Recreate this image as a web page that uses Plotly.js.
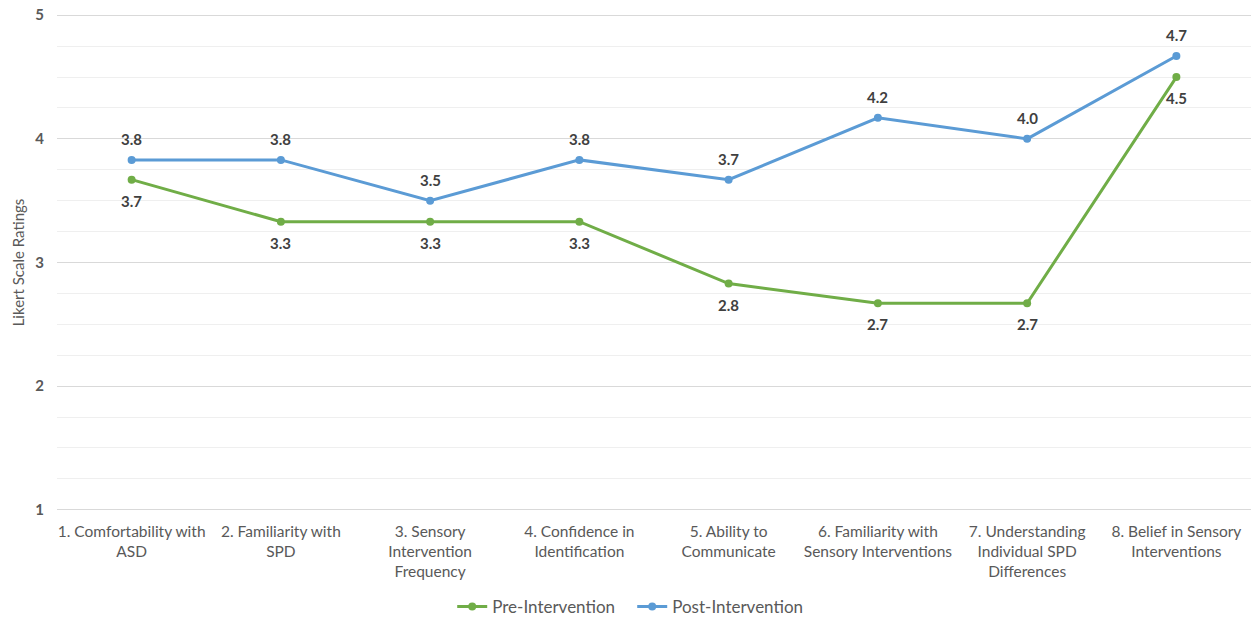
<!DOCTYPE html>
<html>
<head>
<meta charset="utf-8">
<script src="https://cdn.plot.ly/plotly-3.0.1.min.js"></script>
<style>
html,body{margin:0;padding:0;background:#fff;width:1254px;height:621px;overflow:hidden}
#chart{width:1254px;height:621px;display:block}
</style>
</head>
<body>
<div id="chart"></div>
<script>
const categories = [
  "1. Comfortability with<br>ASD",
  "2. Familiarity with<br>SPD",
  "3. Sensory<br>Intervention<br>Frequency",
  "4. Confidence in<br>Identification",
  "5. Ability to<br>Communicate",
  "6. Familiarity with<br>Sensory Interventions",
  "7. Understanding<br>Individual SPD<br>Differences",
  "8. Belief in Sensory<br>Interventions"
];
const preValues = [3.67, 3.33, 3.33, 3.33, 2.83, 2.67, 2.67, 4.5];
const postValues = [3.83, 3.83, 3.5, 3.83, 3.67, 4.17, 4.0, 4.67];
const yTicks = [1, 2, 3, 4, 5];

const FONT = "Lato, 'Open Sans', sans-serif";
const GREEN = '#70AD47', BLUE = '#5B9BD5';

const traces = [
  {
    x: categories, y: preValues, name: 'Pre-Intervention',
    type: 'scatter', mode: 'lines+markers',
    line: {color: GREEN, width: 3},
    marker: {color: GREEN, size: 8}
  },
  {
    x: categories, y: postValues, name: 'Post-Intervention',
    type: 'scatter', mode: 'lines+markers',
    line: {color: BLUE, width: 3},
    marker: {color: BLUE, size: 8}
  }
];

const labelFont = {family: FONT, size: 15, color: '#404040', weight: 'bold'};
const annotations = [];
categories.forEach((c, i) => {
  annotations.push({x: c, y: preValues[i], xref: 'x', yref: 'y', text: preValues[i].toFixed(1),
    showarrow: false, yshift: -21, font: labelFont});
  annotations.push({x: c, y: postValues[i], xref: 'x', yref: 'y', text: postValues[i].toFixed(1),
    showarrow: false, yshift: 21, font: labelFont});
});

const layout = {
  width: 1254, height: 621,
  margin: {l: 57, r: 3, t: 14, b: 110, autoexpand: false},
  paper_bgcolor: '#fff', plot_bgcolor: '#fff',
  font: {family: FONT, size: 15, color: '#595959'},
  showlegend: true,
  legend: {orientation: 'h', x: 0.331, xanchor: 'left', y: -0.193, yanchor: 'middle',
           font: {family: FONT, size: 17, color: '#595959'}, itemwidth: 30, entrywidth: 135},
  annotations: annotations,
  xaxis: {
    type: 'category', range: [-0.5, categories.length - 0.5],
    showgrid: false, zeroline: false, showline: false,
    ticks: '', ticklabelstandoff: 9,
    tickfont: {family: FONT, size: 15.5, color: '#595959'},
    automargin: false
  },
  yaxis: {
    range: [0.99, 5.01], tickvals: yTicks, ticktext: yTicks.map(String),
    showgrid: true, gridcolor: '#d9d9d9', gridwidth: 1,
    minor: {dtick: 0.25, showgrid: true, gridcolor: '#efefef', gridwidth: 1, ticks: ''},
    zeroline: false, showline: false, ticks: '', ticklabelstandoff: 12,
    tickfont: {family: FONT, size: 15, color: '#595959', weight: 'bold'},
    title: {text: 'Likert Scale Ratings', font: {family: FONT, size: 15, color: '#595959'}, standoff: 7},
    automargin: false
  }
};

Plotly.newPlot('chart', traces, layout, {displayModeBar: false, staticPlot: true});
</script>
</body>
</html>
